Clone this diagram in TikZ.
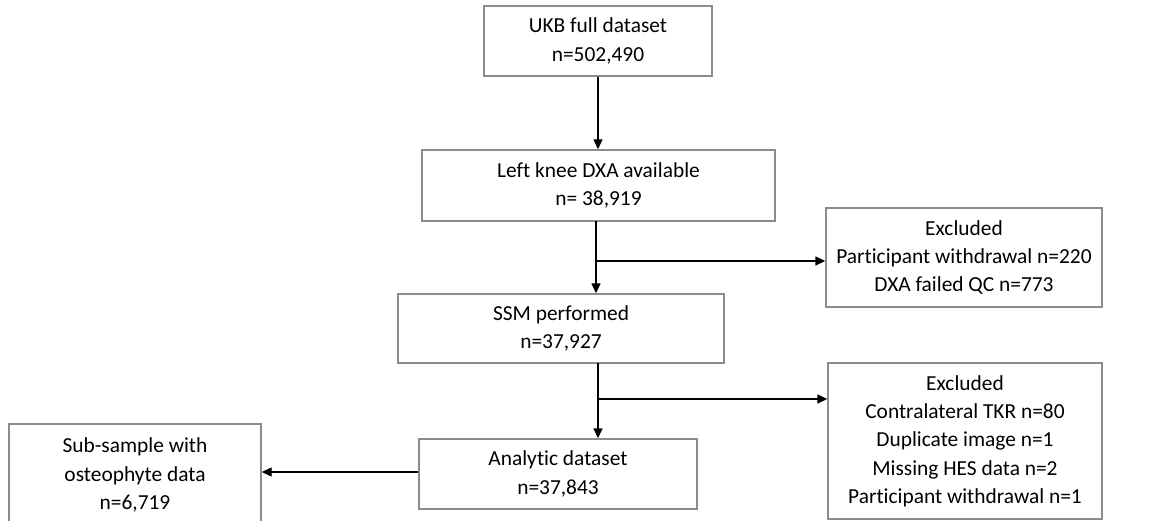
\documentclass[tikz,border=0pt]{standalone}
\usepackage{fontspec}
\setmainfont[Ligatures=NoCommon]{Carlito}
\usetikzlibrary{arrows.meta}
\definecolor{boxgray}{HTML}{8C8C8C}
\tikzset{
  box/.style={draw=boxgray, line width=1.4pt, rectangle, inner sep=0pt, align=center,
    font=\fontsize{21.4}{28.3}\selectfont, execute at begin node={\rule{0pt}{26pt}}},
  arr/.style={draw=black, line width=1.4pt, -{Triangle[length=10pt,width=9pt]}},
}
\begin{document}
\begin{tikzpicture}[x=1pt,y=-1pt]
\useasboundingbox (0,0) rectangle (1162,521);
\node[box, minimum width=228pt, minimum height=70pt] (ukb) at (598,41) {UKB full dataset\\n=502,490};
\node[box, minimum width=353pt, minimum height=71pt] (dxa) at (598.5,185.5) {Left knee DXA available\\n= 38,919};
\node[box, minimum width=326pt, minimum height=69pt] (ssm) at (561,328.5) {SSM performed\\n=37,927};
\node[box, minimum width=278pt, minimum height=70pt] (ana) at (558,474) {Analytic dataset\\n=37,843};
\node[box, minimum width=252pt, minimum height=102pt] (sub) at (135,475) {Sub-sample with\\osteophyte data\\n=6,719};
\node[box, minimum width=276pt, minimum height=99pt] (ex1) at (964,257.5) {Excluded\\Participant withdrawal n=220\\DXA failed QC n=773};
\node[box, minimum width=274pt, minimum height=156pt] (ex2) at (965,441) {Excluded\\Contralateral TKR n=80\\Duplicate image n=1\\Missing HES data n=2\\Participant withdrawal n=1};
\draw[arr] (ukb.south) -- (ukb.south |- dxa.north);
\coordinate (c1) at (596,221);
\coordinate (j1) at (596,261);
\draw[arr] (c1) -- (c1 |- ssm.north);
\draw[arr] (j1) -- (j1 -| ex1.west);
\coordinate (c2) at (598,363);
\coordinate (j2) at (598,399);
\draw[arr] (c2) -- (c2 |- ana.north);
\draw[arr] (j2) -- (j2 -| ex2.west);
\draw[arr] (ana.west |- 0,472) -- (sub.east |- 0,472);
\end{tikzpicture}
\end{document}
